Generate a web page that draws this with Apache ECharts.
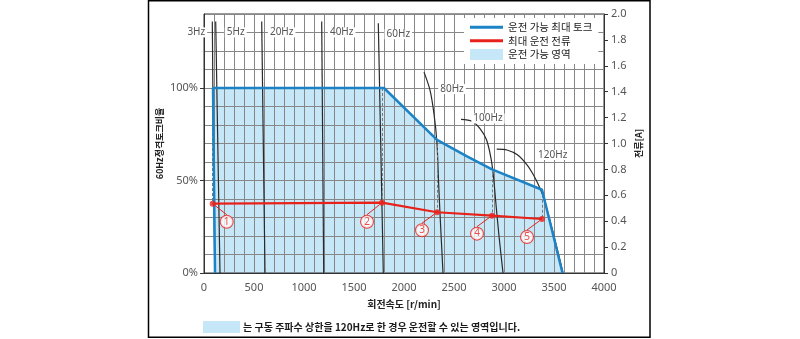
<!DOCTYPE html>
<html>
<head>
<meta charset="utf-8">
<script src="https://cdn.jsdelivr.net/npm/echarts@6/dist/echarts.min.js"></script>
<style>
  html, body { margin: 0; padding: 0; background: #fff; }
  #chart { width: 800px; height: 339px; }
</style>
</head>
<body>
<div id="chart"></div>
<script>
// Rotation speed axis [r/min]
const rpmLabels = [0, 500, 1000, 1500, 2000, 2500, 3000, 3500, 4000];
// Torque as a ratio of the 60Hz rated torque [%]
const torqueLabels = [0, 50, 100];
// Current axis [A]
const currentLabels = [0, 0.2, 0.4, 0.6, 0.8, 1.0, 1.2, 1.4, 1.6, 1.8, 2.0];

// Maximum continuous torque boundary: [r/min, %]
const maxTorque = [
  [110, 0], [90, 100], [1800, 100], [2330, 72], [2630, 63],
  [2880, 56], [3380, 45], [3585, 0]
];

// Maximum operating current: [r/min, A]
const maxCurrent = [
  [87, 0.535], [1780, 0.543], [2330, 0.469], [2880, 0.443], [3380, 0.417]
];
const currentMarks = ['1', '2', '3', '4', '5'];
// Torque value on the boundary above each current point [%]
const torqueAbove = [100, 100, 72, 56, 45];

// Speed-torque curves at each drive frequency: [r/min, %]
const freqNames = ['3Hz', '5Hz', '20Hz', '40Hz', '60Hz', '80Hz', '100Hz', '120Hz'];
const freqCurves = [
  [[83, 136], [95, 60], [108, 0]],
  [[117, 136], [160, 0]],
  [[577, 136], [610, 0]],
  [[1177, 136], [1197, 0]],
  [[1743, 135], [1793, 0]],
  [[2200, 108.6], [2260, 98.9], [2300, 86], [2330, 70], [2345, 50], [2362, 30], [2390, 0]],
  [[2570, 83], [2680, 82], [2760, 78], [2825, 72], [2870, 62], [2895, 52], [2915, 40], [2950, 20], [2990, 0]],
  [[2927, 67], [3030, 66.5], [3130, 64], [3230, 58.5], [3295, 53], [3350, 47], [3400, 40], [3500, 20], [3590, 0]]
];

// Where each frequency name sits relative to the top of its curve (px)
const freqLabelOffset = [[-16, 11], [20, 11], [20, 11], [20, 11], [20, 11], [28, 17], [27, -1], [56, 6]];
// Where each numbered circle sits relative to its current point (px)
const markOffset = [[14, 18], [-15, 19], [-15, 18], [-15, 18], [-15, 18]];

const NUM_FONT = "'Noto Sans', 'Open Sans', sans-serif";
const KR_FONT = "'Noto Sans CJK KR', sans-serif";
const BLUE = '#1b83c6';
const RED = '#e8221b';
const AREA = '#c6e7f7';
const PCT_PER_AMP = 70; // 2.0 A on the right axis lines up with 140 % on the left
const LINE_ICON = 'path://M0,0 L33,0 L33,3 L0,3 Z';

const chart = echarts.init(document.getElementById('chart'), null, { renderer: 'canvas' });

const curveSeries = freqCurves.map((pts, i) => ({
  type: 'line',
  name: freqNames[i],
  data: pts,
  smooth: pts.length > 3 ? 0.3 : false,
  symbol: 'none',
  silent: true,
  z: 3,
  lineStyle: { color: '#2a2a2a', width: 1.2 },
  markPoint: {
    silent: true,
    symbol: 'circle',
    symbolSize: 0,
    data: [{ coord: pts[0], value: freqNames[i] }],
    label: {
      show: true,
      position: 'inside',
      formatter: freqNames[i],
      offset: freqLabelOffset[i],
      color: '#555',
      fontSize: 10,
      fontFamily: NUM_FONT,
      backgroundColor: '#fff',
      padding: [0, 2]
    }
  }
}));

const option = {
  animation: false,
  backgroundColor: '#fff',
  grid: {
    left: 204, right: 196, top: 14, bottom: 66,
    show: true, borderColor: '#333', borderWidth: 1, backgroundColor: 'transparent', z: 2
  },
  legend: {
    orient: 'vertical',
    left: 464, top: 18,
    backgroundColor: '#fff',
    padding: [4, 6, 4, 6],
    itemGap: 3,
    itemWidth: 33,
    itemHeight: 11,
    symbolKeepAspect: true,
    selectedMode: false,
    textStyle: { fontSize: 10.5, color: '#1a1a1a', fontFamily: KR_FONT },
    data: [
      { name: '운전 가능 최대 토크', icon: LINE_ICON },
      { name: '최대 운전 전류', icon: LINE_ICON },
      { name: '운전 가능 영역', icon: 'rect' }
    ]
  },
  xAxis: {
    type: 'value',
    min: 0, max: 4000, interval: 100,
    z: 2,
    name: '회전속도 [r/min]',
    nameLocation: 'middle',
    nameGap: 26,
    nameTextStyle: { fontSize: 10, fontWeight: 'bold', color: '#222', fontFamily: KR_FONT },
    axisLine: { show: true, lineStyle: { color: '#333', width: 1 } },
    axisTick: { show: false },
    axisLabel: {
      customValues: rpmLabels, formatter: v => String(v),
      color: '#555', fontSize: 11, fontFamily: NUM_FONT, margin: 9
    },
    splitLine: { show: true, lineStyle: { color: '#878787', width: 1 } }
  },
  yAxis: [
    {
      type: 'value',
      min: 0, max: 140, interval: 10,
      z: 2,
      position: 'left',
      name: '60Hz정격토크비율',
      nameLocation: 'middle',
      nameGap: 40,
      nameRotate: 90,
      nameTextStyle: { fontSize: 9, fontWeight: 'bold', color: '#222', fontFamily: KR_FONT },
      axisLine: { show: true, lineStyle: { color: '#333', width: 1 } },
      axisTick: { show: false },
      axisLabel: {
        customValues: torqueLabels, formatter: v => v + '%',
        color: '#555', fontSize: 11, fontFamily: NUM_FONT, margin: 6
      },
      splitLine: { show: true, lineStyle: { color: '#878787', width: 1 } }
    },
    {
      type: 'value',
      min: 0, max: 2.0, interval: 0.2,
      z: 2,
      position: 'right',
      name: '전류[A]',
      nameLocation: 'middle',
      nameGap: 30,
      nameRotate: 90,
      nameTextStyle: { fontSize: 9, fontWeight: 'bold', color: '#222', fontFamily: KR_FONT },
      axisLine: { show: true, lineStyle: { color: '#333', width: 1 } },
      axisTick: { show: true, length: 4, lineStyle: { color: '#333' } },
      axisLabel: {
        formatter: v => (v === 0 ? '0' : v.toFixed(1)),
        color: '#555', fontSize: 11, fontFamily: NUM_FONT, margin: 7
      },
      splitLine: { show: false }
    },
    {
      // short outward ticks at the labelled torque values
      type: 'value',
      min: 0, max: 140,
      z: 2,
      position: 'left',
      axisLine: { show: false },
      axisTick: { show: true, customValues: torqueLabels, length: 4, lineStyle: { color: '#333' } },
      axisLabel: { show: false },
      splitLine: { show: false }
    }
  ],
  series: [
    {
      type: 'line',
      name: '운전 가능 영역',
      data: maxTorque,
      symbol: 'none',
      silent: true,
      z: 1,
      itemStyle: { color: AREA },
      lineStyle: { width: 0, color: AREA },
      areaStyle: { color: AREA, opacity: 1 }
    },
    ...curveSeries,
    {
      type: 'line',
      name: '운전 가능 최대 토크',
      data: maxTorque,
      symbol: 'none',
      silent: true,
      z: 5,
      itemStyle: { color: BLUE },
      lineStyle: { color: BLUE, width: 2.5 },
      markLine: {
        silent: true,
        symbol: 'none',
        label: { show: false },
        lineStyle: { color: '#7a7a7a', width: 1, type: [3, 2] },
        data: maxCurrent.map((p, i) => [
          { coord: [p[0], torqueAbove[i]] },
          { coord: [p[0], p[1] * PCT_PER_AMP] }
        ])
      }
    },
    {
      type: 'line',
      name: '최대 운전 전류',
      yAxisIndex: 1,
      data: maxCurrent,
      symbol: 'none',
      silent: true,
      z: 6,
      itemStyle: { color: RED },
      lineStyle: { color: RED, width: 2.2 }
    },
    {
      type: 'scatter',
      name: 'current points',
      yAxisIndex: 1,
      data: maxCurrent,
      symbol: 'circle',
      symbolSize: 6,
      silent: true,
      z: 7,
      itemStyle: { color: RED },
      label: {
        show: true,
        position: 'inside',
        formatter: p => currentMarks[p.dataIndex],
        color: RED,
        fontSize: 10,
        fontFamily: NUM_FONT,
        backgroundColor: '#fff',
        borderColor: RED,
        borderWidth: 1,
        borderRadius: 7,
        width: 12,
        height: 12,
        lineHeight: 12,
        align: 'center',
        padding: 0
      },
      labelLayout: p => ({ dx: markOffset[p.dataIndex][0], dy: markOffset[p.dataIndex][1] }),
      labelLine: { show: true, lineStyle: { color: RED, width: 1 } }
    }
  ],
  graphic: [
    {
      type: 'rect',
      silent: true,
      z: 100,
      shape: { x: 148.5, y: 0.75, width: 501.5, height: 336.5 },
      style: { fill: 'none', stroke: '#000', lineWidth: 1.5 }
    },
    {
      type: 'rect',
      silent: true,
      shape: { x: 203, y: 321, width: 37, height: 12 },
      style: { fill: AREA }
    },
    {
      type: 'text',
      silent: true,
      x: 243, y: 327,
      style: {
        text: '는 구동 주파수 상한을 120Hz로 한 경우 운전할 수 있는 영역입니다.',
        font: "bold 10px 'Noto Sans CJK KR', sans-serif",
        fill: '#1a1a1a',
        verticalAlign: 'middle'
      }
    }
  ]
};

chart.setOption(option);
</script>
</body>
</html>
